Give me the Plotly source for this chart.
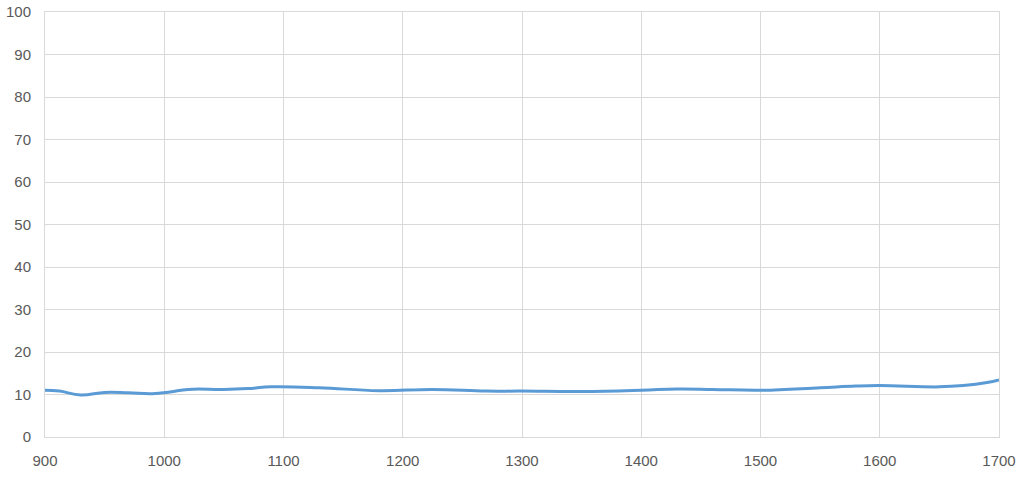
import plotly.graph_objects as go

# ---------- DATA ----------
wavelength = [900, 912, 930, 950, 970, 990, 1005, 1020, 1050, 1070, 1090,
              1130, 1180, 1225, 1270, 1300, 1350, 1400, 1430, 1460, 1500,
              1550, 1580, 1600, 1650, 1670, 1690, 1700]
value = [11.0, 10.8, 9.9, 10.5, 10.4, 10.2, 10.6, 11.2, 11.2, 11.4, 11.8,
         11.6, 10.9, 11.2, 10.8, 10.8, 10.7, 11.0, 11.3, 11.2, 11.0,
         11.6, 12.0, 12.1, 11.8, 12.1, 12.8, 13.4]

x_ticks = list(range(900, 1701, 100))
y_ticks = list(range(0, 101, 10))

# ---------- PLOT ----------
fig = go.Figure()
fig.add_trace(go.Scatter(
    x=wavelength,
    y=value,
    mode="lines",
    line=dict(color="#5b9bd5", width=3, shape="spline", smoothing=1.2),
    showlegend=False,
))

grid = "#d9d9d9"
fig.update_layout(
    autosize=True,
    margin=dict(l=45, r=25, t=12, b=44, autoexpand=False),
    paper_bgcolor="white",
    plot_bgcolor="white",
    font=dict(family="Liberation Sans, Arial, sans-serif", size=15, color="#595959"),
)
fig.update_xaxes(
    range=[900, 1700],
    tickvals=x_ticks,
    showgrid=True, gridcolor=grid, gridwidth=1,
    showline=True, linecolor=grid, linewidth=1, mirror=True,
    zeroline=False,
    ticks="", ticklen=0, ticklabelstandoff=10,
)
fig.update_yaxes(
    range=[0, 100],
    tickvals=y_ticks,
    showgrid=True, gridcolor=grid, gridwidth=1,
    showline=True, linecolor=grid, linewidth=1, mirror=True,
    zeroline=False,
    ticks="", ticklen=0, ticklabelstandoff=10,
)

fig.write_html("out.html", default_width="100vw", default_height="100vh",
               config={"displayModeBar": False},
               post_script="document.body.style.margin='0';")
